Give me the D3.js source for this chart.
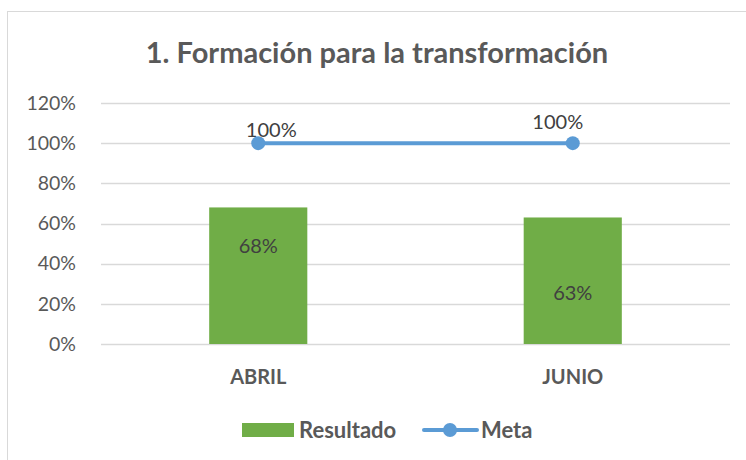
<!DOCTYPE html>
<html>
<head>
<meta charset="utf-8">
<script src="https://cdn.jsdelivr.net/npm/d3@7"></script>
<style>
  body { margin: 0; background: #fff; }
  text { font-family: Lato, "Open Sans", sans-serif; fill: #595959; }
</style>
</head>
<body>
<script>
const months = ["ABRIL", "JUNIO"];
const resultado = [0.68, 0.63];
const meta = [1.0, 1.0];
const yTicks = [0, 0.2, 0.4, 0.6, 0.8, 1.0, 1.2];

// hand-placed label nudges, like the original chart
const barLabelDy = [39, 76];
const metaLabelDx = [13, -15];
const metaLabelDy = [-13, -21];

const W = 746, H = 460;
const plotLeft = 101, plotRight = 730, plotTop = 103, plotBottom = 344;

const svg = d3.select("body").append("svg")
  .attr("width", W).attr("height", H);

svg.append("rect")
  .attr("x", 7.5).attr("y", 11.5)
  .attr("width", 780).attr("height", 480)
  .attr("fill", "#fff").attr("stroke", "#d9d9d9");

svg.append("text")
  .attr("x", 377).attr("y", 63)
  .attr("text-anchor", "middle")
  .style("font-size", "29px").style("font-weight", "bold")
  .text("1. Formación para la transformación");

let x = d3.scaleBand().domain(months).range([plotLeft, plotRight]).padding(0);
let y = d3.scaleLinear().domain([0, 1.2]).range([plotBottom, plotTop]);

// gridlines
svg.append("g")
  .selectAll("line")
  .data(yTicks)
  .join("line")
  .attr("x1", plotLeft).attr("x2", plotRight)
  .attr("y1", d => Math.round(y(d)) + 0.5)
  .attr("y2", d => Math.round(y(d)) + 0.5)
  .attr("stroke", "#d9d9d9").attr("stroke-width", 1.5);

// y axis labels
let yAxis = svg.append("g")
  .attr("transform", "translate(" + (plotLeft - 22) + ",0)")
  .call(d3.axisLeft(y).tickValues(yTicks).tickFormat(d3.format(".0%")).tickSize(0));
yAxis.select(".domain").remove();
yAxis.selectAll("text")
  .style("font-size", "19.5px")
  .style("font-family", "Lato, 'Open Sans', sans-serif")
  .attr("fill", "#595959");

// x axis labels
let xAxis = svg.append("g")
  .attr("transform", "translate(0," + (plotBottom + 23) + ")")
  .call(d3.axisBottom(x).tickSize(0));
xAxis.select(".domain").remove();
xAxis.selectAll("text")
  .style("font-size", "20px").style("font-weight", "bold")
  .style("font-family", "Lato, 'Open Sans', sans-serif")
  .attr("fill", "#595959");

const barW = x.bandwidth() * 0.312;
const cx = d => x(d) + x.bandwidth() / 2;

svg.append("g")
  .selectAll("rect")
  .data(months)
  .join("rect")
  .attr("x", d => cx(d) - barW / 2)
  .attr("y", (d, i) => y(resultado[i]))
  .attr("width", barW)
  .attr("height", (d, i) => y(0) - y(resultado[i]))
  .attr("fill", "#70ad47");

svg.append("g")
  .selectAll("text")
  .data(months)
  .join("text")
  .attr("x", d => cx(d))
  .attr("y", (d, i) => y(resultado[i]) + barLabelDy[i])
  .attr("dy", "0.35em")
  .attr("text-anchor", "middle")
  .style("font-size", "20px")
  .style("fill", "#404040")
  .text((d, i) => d3.format(".0%")(resultado[i]));

// meta line
let line = d3.line()
  .x((d, i) => cx(months[i]))
  .y(d => y(d));

svg.append("path")
  .datum(meta)
  .attr("d", line)
  .attr("fill", "none")
  .attr("stroke", "#5b9bd5")
  .attr("stroke-width", 4)
  .attr("stroke-linecap", "round");

svg.append("g")
  .selectAll("circle")
  .data(meta)
  .join("circle")
  .attr("cx", (d, i) => cx(months[i]))
  .attr("cy", d => y(d))
  .attr("r", 7)
  .attr("fill", "#5b9bd5");

svg.append("g")
  .selectAll("text")
  .data(meta)
  .join("text")
  .attr("x", (d, i) => cx(months[i]) + metaLabelDx[i])
  .attr("y", (d, i) => y(d) + metaLabelDy[i])
  .attr("dy", "0.35em")
  .attr("text-anchor", "middle")
  .style("font-size", "20px")
  .style("fill", "#404040")
  .text(d => d3.format(".0%")(d));

// legend
let legend = svg.append("g").attr("transform", "translate(0,430)");
legend.append("rect")
  .attr("x", 242).attr("y", -7)
  .attr("width", 52).attr("height", 14)
  .attr("fill", "#70ad47");
legend.append("text")
  .attr("x", 299).attr("dy", "0.35em")
  .style("font-size", "22px").style("font-weight", "bold")
  .text("Resultado");
legend.append("line")
  .attr("x1", 424).attr("x2", 477)
  .attr("stroke", "#5b9bd5").attr("stroke-width", 4)
  .attr("stroke-linecap", "round");
legend.append("circle")
  .attr("cx", 450).attr("r", 7).attr("fill", "#5b9bd5");
legend.append("text")
  .attr("x", 481).attr("dy", "0.35em")
  .style("font-size", "22px").style("font-weight", "bold")
  .text("Meta");
</script>
</body>
</html>
